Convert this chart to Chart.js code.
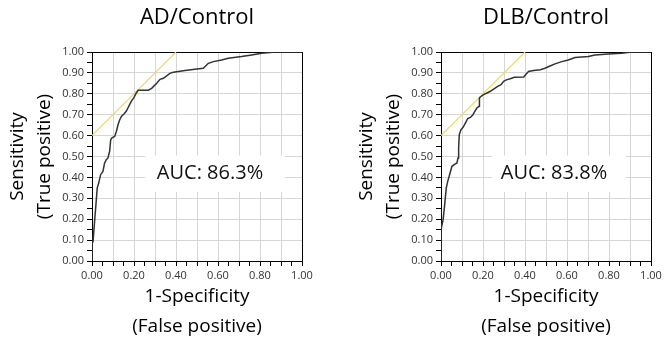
<!DOCTYPE html>
<html>
<head>
<meta charset="utf-8">
<script src="https://cdn.jsdelivr.net/npm/chart.js@4/dist/chart.umd.min.js"></script>
<style>
  html, body { margin: 0; padding: 0; background: #fff; }
  #wrap { position: relative; width: 670px; height: 350px; overflow: hidden; background: #fff; }
  canvas { position: absolute; top: 0; }
</style>
</head>
<body>
<div id="wrap">
  <canvas id="c1" width="335" height="350" style="left:0"></canvas>
  <canvas id="c2" width="321" height="350" style="left:349px"></canvas>
</div>
<script>
// ---- Data ----
const chartTitles = ['AD/Control', 'DLB/Control'];
const aucLabels = ['AUC: 86.3%', 'AUC: 83.8%'];

const adFpr = [0, 0, 0.005, 0.013, 0.025, 0.032, 0.041, 0.052, 0.06, 0.068, 0.076, 0.084, 0.089, 0.095, 0.108, 0.116, 0.124, 0.132, 0.14, 0.152, 0.163, 0.171, 0.179, 0.187, 0.2, 0.211, 0.22, 0.268, 0.284, 0.308, 0.324, 0.34, 0.371, 0.387, 0.443, 0.49, 0.53, 0.554, 0.578, 0.617, 0.649, 0.712, 0.76, 0.808, 0.848, 0.871, 1.0];
const adTpr = [0, 0.08, 0.094, 0.198, 0.35, 0.373, 0.413, 0.429, 0.469, 0.485, 0.493, 0.525, 0.58, 0.589, 0.596, 0.62, 0.652, 0.676, 0.692, 0.703, 0.716, 0.732, 0.748, 0.764, 0.783, 0.804, 0.817, 0.817, 0.826, 0.85, 0.869, 0.874, 0.898, 0.903, 0.911, 0.917, 0.922, 0.946, 0.954, 0.962, 0.970, 0.978, 0.986, 0.994, 0.998, 1.0, 1.0];

const dlbFpr = [0, 0, 0.01, 0.016, 0.025, 0.032, 0.041, 0.052, 0.063, 0.076, 0.081, 0.084, 0.087, 0.095, 0.105, 0.116, 0.127, 0.14, 0.152, 0.163, 0.171, 0.181, 0.183, 0.187, 0.203, 0.219, 0.235, 0.254, 0.27, 0.286, 0.298, 0.314, 0.33, 0.349, 0.394, 0.406, 0.417, 0.441, 0.473, 0.495, 0.519, 0.543, 0.575, 0.606, 0.638, 0.702, 0.733, 0.797, 0.86, 0.908, 1.0];
const dlbTpr = [0, 0.15, 0.198, 0.254, 0.349, 0.381, 0.413, 0.453, 0.461, 0.469, 0.493, 0.541, 0.604, 0.628, 0.64, 0.66, 0.681, 0.687, 0.7, 0.719, 0.732, 0.74, 0.78, 0.785, 0.796, 0.804, 0.812, 0.825, 0.836, 0.844, 0.86, 0.868, 0.872, 0.879, 0.88, 0.895, 0.907, 0.911, 0.915, 0.922, 0.933, 0.943, 0.954, 0.962, 0.974, 0.978, 0.986, 0.990, 0.994, 1.0, 1.0];

// tangent (yellow) reference line
const refX = [0, 0.4];
const refY = [0.6, 1.0];

const xTitle = ['1-Specificity', '(False positive)'];
const yTitle = ['Sensitivity', '(True positive)'];

// ---- Rendering ----
const FONT = '"Open Sans", "Noto Sans", sans-serif';

const toPts = (xs, ys) => xs.map((v, i) => ({x: v, y: ys[i]}));

const aucPlugin = {
  id: 'aucLabel',
  beforeDatasetsDraw(chart, args, opts) {
    const {ctx, scales: {x, y}} = chart;
    const l = x.getPixelForValue(opts.box[0]);
    const r = x.getPixelForValue(opts.box[1]);
    const b = y.getPixelForValue(opts.box[2]);
    const t = y.getPixelForValue(opts.box[3]);
    ctx.save();
    ctx.fillStyle = '#fff';
    ctx.fillRect(l, t, r - l, b - t);
    ctx.font = '20px ' + FONT;
    ctx.fillStyle = '#111';
    ctx.textAlign = 'center';
    ctx.textBaseline = 'middle';
    ctx.fillText(opts.text, x.getPixelForValue(opts.at[0]), y.getPixelForValue(opts.at[1]));
    ctx.restore();
  }
};

function gridColor(ctx) {
  const r = Math.round(ctx.tick.value * 100);
  if (r === 100) return '#000';
  if (r % 10 === 0) return '#d6d6d6';
  return 'rgba(0,0,0,0)';
}

function makeChart(id, title, fpr, tpr, auc, padRight, box, at) {
  return new Chart(document.getElementById(id), {
    type: 'line',
    data: {
      datasets: [
        {
          data: toPts(fpr, tpr),
          borderColor: '#333',
          borderWidth: 1.5,
          pointRadius: 0,
          tension: 0,
          fill: false
        },
        {
          data: toPts(refX, refY),
          borderColor: '#e6dc6a',
          borderWidth: 1.2,
          pointRadius: 0,
          tension: 0,
          fill: false
        }
      ]
    },
    options: {
      responsive: false,
      animation: false,
      events: [],
      layout: { padding: { left: 0, right: padRight, top: 0, bottom: 0 } },
      plugins: {
        legend: { display: false },
        tooltip: { enabled: false },
        title: {
          display: true,
          text: title,
          fullSize: false,
          color: '#000',
          font: { family: FONT, size: 22, weight: 'normal', lineHeight: 1.2 },
          padding: { top: 4.8, bottom: 20.8 }
        },
        aucLabel: { text: auc, box: box, at: at }
      },
      scales: {
        x: {
          type: 'linear',
          position: 'bottom',
          min: 0, max: 1,
          afterFit: s => { s.height = 89; },
          border: { color: '#000', width: 1 },
          grid: { color: gridColor, tickColor: '#000', tickLength: 5, lineWidth: 1, drawTicks: true },
          ticks: {
            stepSize: 0.05, autoSkip: false, maxRotation: 0, minRotation: 0, padding: 3,
            color: '#333', font: { family: FONT, size: 11 },
            callback: v => (Math.round(v * 100) % 20 === 0 ? Number(v).toFixed(2) : '')
          },
          title: {
            display: true, text: xTitle, color: '#000',
            font: { family: FONT, size: 19, lineHeight: '30px' },
            padding: { top: 0, bottom: 8 }
          }
        },
        y: {
          type: 'linear',
          position: 'left',
          min: 0, max: 1,
          afterFit: s => { s.width = 92; },
          border: { color: '#000', width: 1 },
          grid: { color: gridColor, tickColor: '#000', tickLength: 5, lineWidth: 1, drawTicks: true },
          ticks: {
            stepSize: 0.05, autoSkip: false, padding: 3,
            color: '#333', font: { family: FONT, size: 11 },
            callback: v => (Math.round(v * 100) % 10 === 0 ? Number(v).toFixed(2) : '')
          },
          title: {
            display: true, text: yTitle, color: '#000',
            font: { family: FONT, size: 19, lineHeight: '27px' },
            padding: { top: 4.5, bottom: 0 }
          }
        }
      }
    },
    plugins: [aucPlugin]
  });
}

makeChart('c1', chartTitles[0], adFpr, adTpr, aucLabels[0], 33, [0.252, 0.919, 0.33, 0.505], [0.562, 0.42]);
makeChart('c2', chartTitles[1], dlbFpr, dlbTpr, aucLabels[1], 19, [0.243, 0.88, 0.33, 0.505], [0.538, 0.42]);
</script>
</body>
</html>
